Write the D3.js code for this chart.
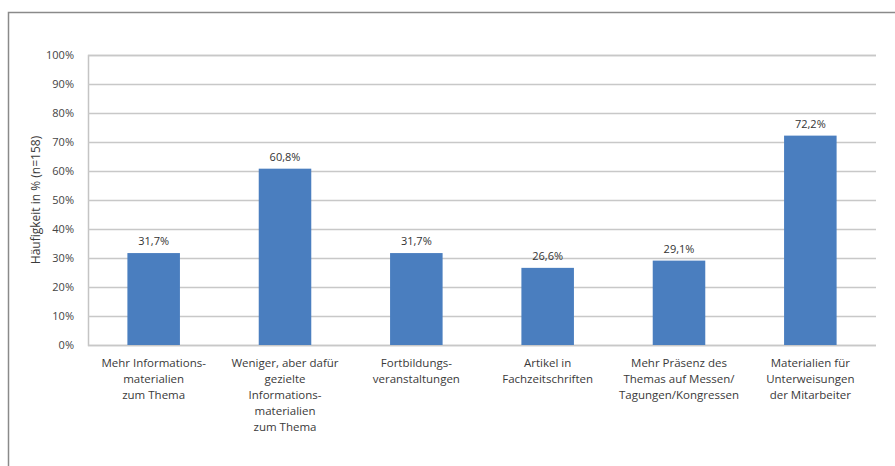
<!DOCTYPE html>
<html>
<head>
<meta charset="utf-8">
<script src="https://cdn.jsdelivr.net/npm/d3@7"></script>
<style>
  html, body { margin: 0; padding: 0; background: #fff; }
  svg { display: block; }
  text { font-family: "Open Sans", "Noto Sans", sans-serif; }
</style>
</head>
<body>
<svg id="chart" width="895" height="466"></svg>
<script>
// Category labels (line breaks as printed under each bar)
const categories = [
  ["Mehr Informations-", "materialien", "zum Thema"],
  ["Weniger, aber dafür", "gezielte", "Informations-", "materialien", "zum Thema"],
  ["Fortbildungs-", "veranstaltungen"],
  ["Artikel in", "Fachzeitschriften"],
  ["Mehr Präsenz des", "Themas auf Messen/", "Tagungen/Kongressen"],
  ["Materialien für", "Unterweisungen", "der Mitarbeiter"]
];
const values = [31.7, 60.8, 31.7, 26.6, 29.1, 72.2];
const yTicks = [0, 10, 20, 30, 40, 50, 60, 70, 80, 90, 100];
const yTitle = "Häufigkeit in % (n=158)";

const svg = d3.select("#chart");
const margin = { left: 88, right: 19, top: 55, bottom: 121 };
const W = 895, H = 466;

// Outer frame (top and left edges)
svg.append("path")
  .attr("d", `M8.5,${H} V12.5 H${W}`)
  .attr("fill", "none")
  .attr("stroke", "#8a8a8a")
  .attr("stroke-width", 1.5);

const x = d3.scaleBand()
  .domain(d3.range(categories.length))
  .range([margin.left, W - margin.right])
  .paddingInner(0.6)
  .paddingOuter(0.3);

const y = d3.scaleLinear()
  .domain([0, 100])
  .range([H - margin.bottom, margin.top]);

// Gridlines and tick labels
const yAxis = d3.axisLeft(y)
  .tickValues(yTicks)
  .tickSize(-(W - margin.right - margin.left))
  .tickPadding(14)
  .tickFormat(d => d + "%");

const gy = svg.append("g")
  .attr("transform", `translate(${margin.left},0)`)
  .call(yAxis);
gy.select(".domain").attr("stroke", "#c4c4c4").attr("stroke-width", 1.5);
gy.selectAll(".tick line").attr("stroke", "#c8c8c8").attr("stroke-width", 1.5);
gy.selectAll(".tick text")
  .attr("fill", "#444")
  .style("font-size", "11px");

// Bars
svg.append("g").selectAll("rect")
  .data(values)
  .join("rect")
  .attr("x", (d, i) => x(i))
  .attr("width", x.bandwidth())
  .attr("y", d => y(d))
  .attr("height", d => y(0) - y(d))
  .attr("fill", "#4a7ebf");

// Value labels
svg.append("g").selectAll("text")
  .data(values)
  .join("text")
  .attr("x", (d, i) => x(i) + x.bandwidth() / 2)
  .attr("y", d => y(d) - 8)
  .attr("text-anchor", "middle")
  .attr("fill", "#333")
  .style("font-size", "11px")
  .text(d => d.toFixed(1).replace(".", ",") + "%");

// Category labels
const cat = svg.append("g").selectAll("text")
  .data(categories)
  .join("text")
  .attr("x", (d, i) => x(i) + x.bandwidth() / 2)
  .attr("y", H - margin.bottom + 22)
  .attr("text-anchor", "middle")
  .attr("fill", "#3a3a3a")
  .style("font-size", "11.5px");
cat.selectAll("tspan")
  .data(d => d)
  .join("tspan")
  .attr("x", function () { return d3.select(this.parentNode).attr("x"); })
  .attr("dy", (d, i) => i === 0 ? 0 : 16)
  .text(d => d);

// Y axis title
svg.append("text")
  .attr("transform", `translate(40,${(y(0) + y(100)) / 2}) rotate(-90)`)
  .attr("text-anchor", "middle")
  .attr("fill", "#3a3a3a")
  .style("font-size", "12px")
  .text(yTitle);
</script>
</body>
</html>
